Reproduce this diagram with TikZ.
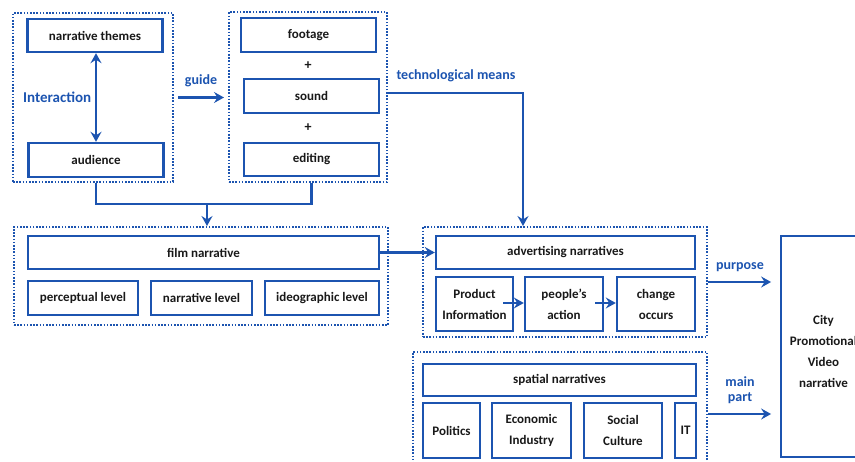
\documentclass[tikz,border=0pt]{standalone}
\usepackage{fontspec}
\setmainfont{Carlito}
\usetikzlibrary{arrows.meta}

\definecolor{navblue}{RGB}{28,84,176}
\definecolor{inkblack}{RGB}{25,25,25}

\tikzset{
  box/.style={draw=navblue, line width=2.4pt, fill=white, inner sep=0pt,
    text=inkblack, align=center, font=\fontsize{13}{21}\selectfont\bfseries},
  group/.style={draw=navblue, line width=2pt, dash pattern=on 1.6pt off 1.6pt, inner sep=0pt},
  line/.style={draw=navblue, line width=2.5pt},
  link/.style={line, -{Stealth[length=10pt,width=11pt,inset=3.5pt]}},
  lbl/.style={text=navblue, inner sep=0pt, align=center, font=\fontsize{14}{17}\selectfont\bfseries}
}

\begin{document}
\begin{tikzpicture}[x=1pt,y=-1pt]
	\useasboundingbox (0,0) rectangle (855,462);
	\clip (0,0) rectangle (855,462);

	% interaction part
	\node[group, minimum width=160, minimum height=169] (interg) at (93,97.5) {};
	\node[box, minimum width=135, minimum height=33] (themes) at (95,35.5) {narrative themes};
	\node[box, minimum width=135, minimum height=34] (audience) at (96,160) {audience};
	\draw[line, {Stealth[length=10pt,width=11pt,inset=3.5pt]}-{Stealth[length=10pt,width=11pt,inset=3.5pt]}]
		(audience.north |- themes.south) -- (audience.north);
	\node[lbl, anchor=west, font=\fontsize{15}{17}\selectfont\bfseries] (interlbl) at (23,97) {Interaction};

	% technological part
	\node[group, minimum width=158, minimum height=170] (techgrp) at (308,97) {};
	\node[box, minimum width=135, minimum height=34] (footage) at (308.5,35) {footage};
	\node[box, minimum width=135, minimum height=34] (sound) at (311.5,96) {sound};
	\node[box, minimum width=135, minimum height=33] (editing) at (311.5,159.5) {editing};
	\node[text=inkblack, font=\fontsize{14}{16}\selectfont\bfseries] (plusa) at (308,66) {+};
	\node[text=inkblack, font=\fontsize{14}{16}\selectfont\bfseries] (plusb) at (308,128) {+};

	\draw[link, shorten <=4pt, shorten >=4pt] (interg.east) -- (techgrp.west |- interg.east);
	\node[lbl] (guidelbl) at (201,81) {guide};

	% film narrative
	\node[group, minimum width=374, minimum height=98] (filmgrp) at (201,276) {};
	\node[box, minimum width=351, minimum height=33] (film) at (203.5,252.5) {film narrative};
	\node[box, minimum width=110, minimum height=34] (percept) at (83,298) {perceptual level};
	\node[box, minimum width=101, minimum height=34, line width=1.8pt] (narrlev) at (201.5,298) {narrative level};
	\node[box, minimum width=114, minimum height=34] (ideo) at (322,298) {ideographic level};

	\coordinate (merge) at (207,204);
	\draw[line] (interg.south -| audience.south) |- (merge) -| (techgrp.south -| editing.south);
	\draw[link] (merge) -- (merge |- filmgrp.north);

	% advertising narratives
	\node[group, minimum width=284, minimum height=110] (advgrp) at (565,282) {};
	\node[box, minimum width=259, minimum height=33] (advert) at (565.5,252.5) {advertising narratives};
	\node[box, minimum width=77, minimum height=54] (product) at (474.5,304) {Product\\Information};
	\node[box, minimum width=78, minimum height=54] (action) at (564,304) {people's\\action};
	\node[box, minimum width=78, minimum height=54] (change) at (656,304) {change\\occurs};
	\draw[link] ([xshift=-11pt,yshift=1pt]product.east) -- ([yshift=1pt]action.west);
	\draw[link] ([xshift=-9pt,yshift=1pt]action.east) -- ([yshift=1pt]change.west);

	\draw[link] (film.east) -- (advert.west);
	\draw[link] (techgrp.east |- sound.north) ++(0,15) -| ([xshift=-42pt]advgrp.north);
	\node[lbl] (techlbl) at (456,76) {technological means};

	% spatial narratives
	\node[group, minimum width=294, minimum height=118] (spatgrp) at (560,411) {};
	\node[box, minimum width=273, minimum height=32] (spatial) at (559.5,380) {spatial narratives};
	\node[box, minimum width=57, minimum height=55] (politics) at (451.5,430.5) {Politics};
	\node[box, minimum width=79, minimum height=55] (economy) at (531.5,430.5) {Economic\\Industry};
	\node[box, minimum width=78, minimum height=55] (culture) at (623,430.5) {Social\\Culture};
	\node[box, minimum width=21, minimum height=55] (it) at (685.5,430.5) {IT};

	% city promotional video
	\node[box, minimum width=85, minimum height=221, line width=1.8pt] (city) at (823.5,346.5) {};
	\node[box, draw=none, fill=none] (citytext) at ([yshift=-5pt]city.center) {City\\Promotional\\Video\\narrative};

	\draw[link, shorten >=9pt] (advgrp.east) -- (advgrp.east -| city.west);
	\node[lbl] (purplbl) at (740,267) {purpose};
	\draw[link, shorten >=9pt] ([yshift=-3pt]spatgrp.east) -- ([yshift=-3pt]spatgrp.east -| city.west);
	\node[lbl, font=\fontsize{14}{15}\selectfont\bfseries] (mainlbl) at (740,390) {main\\part};
\end{tikzpicture}
\end{document}
